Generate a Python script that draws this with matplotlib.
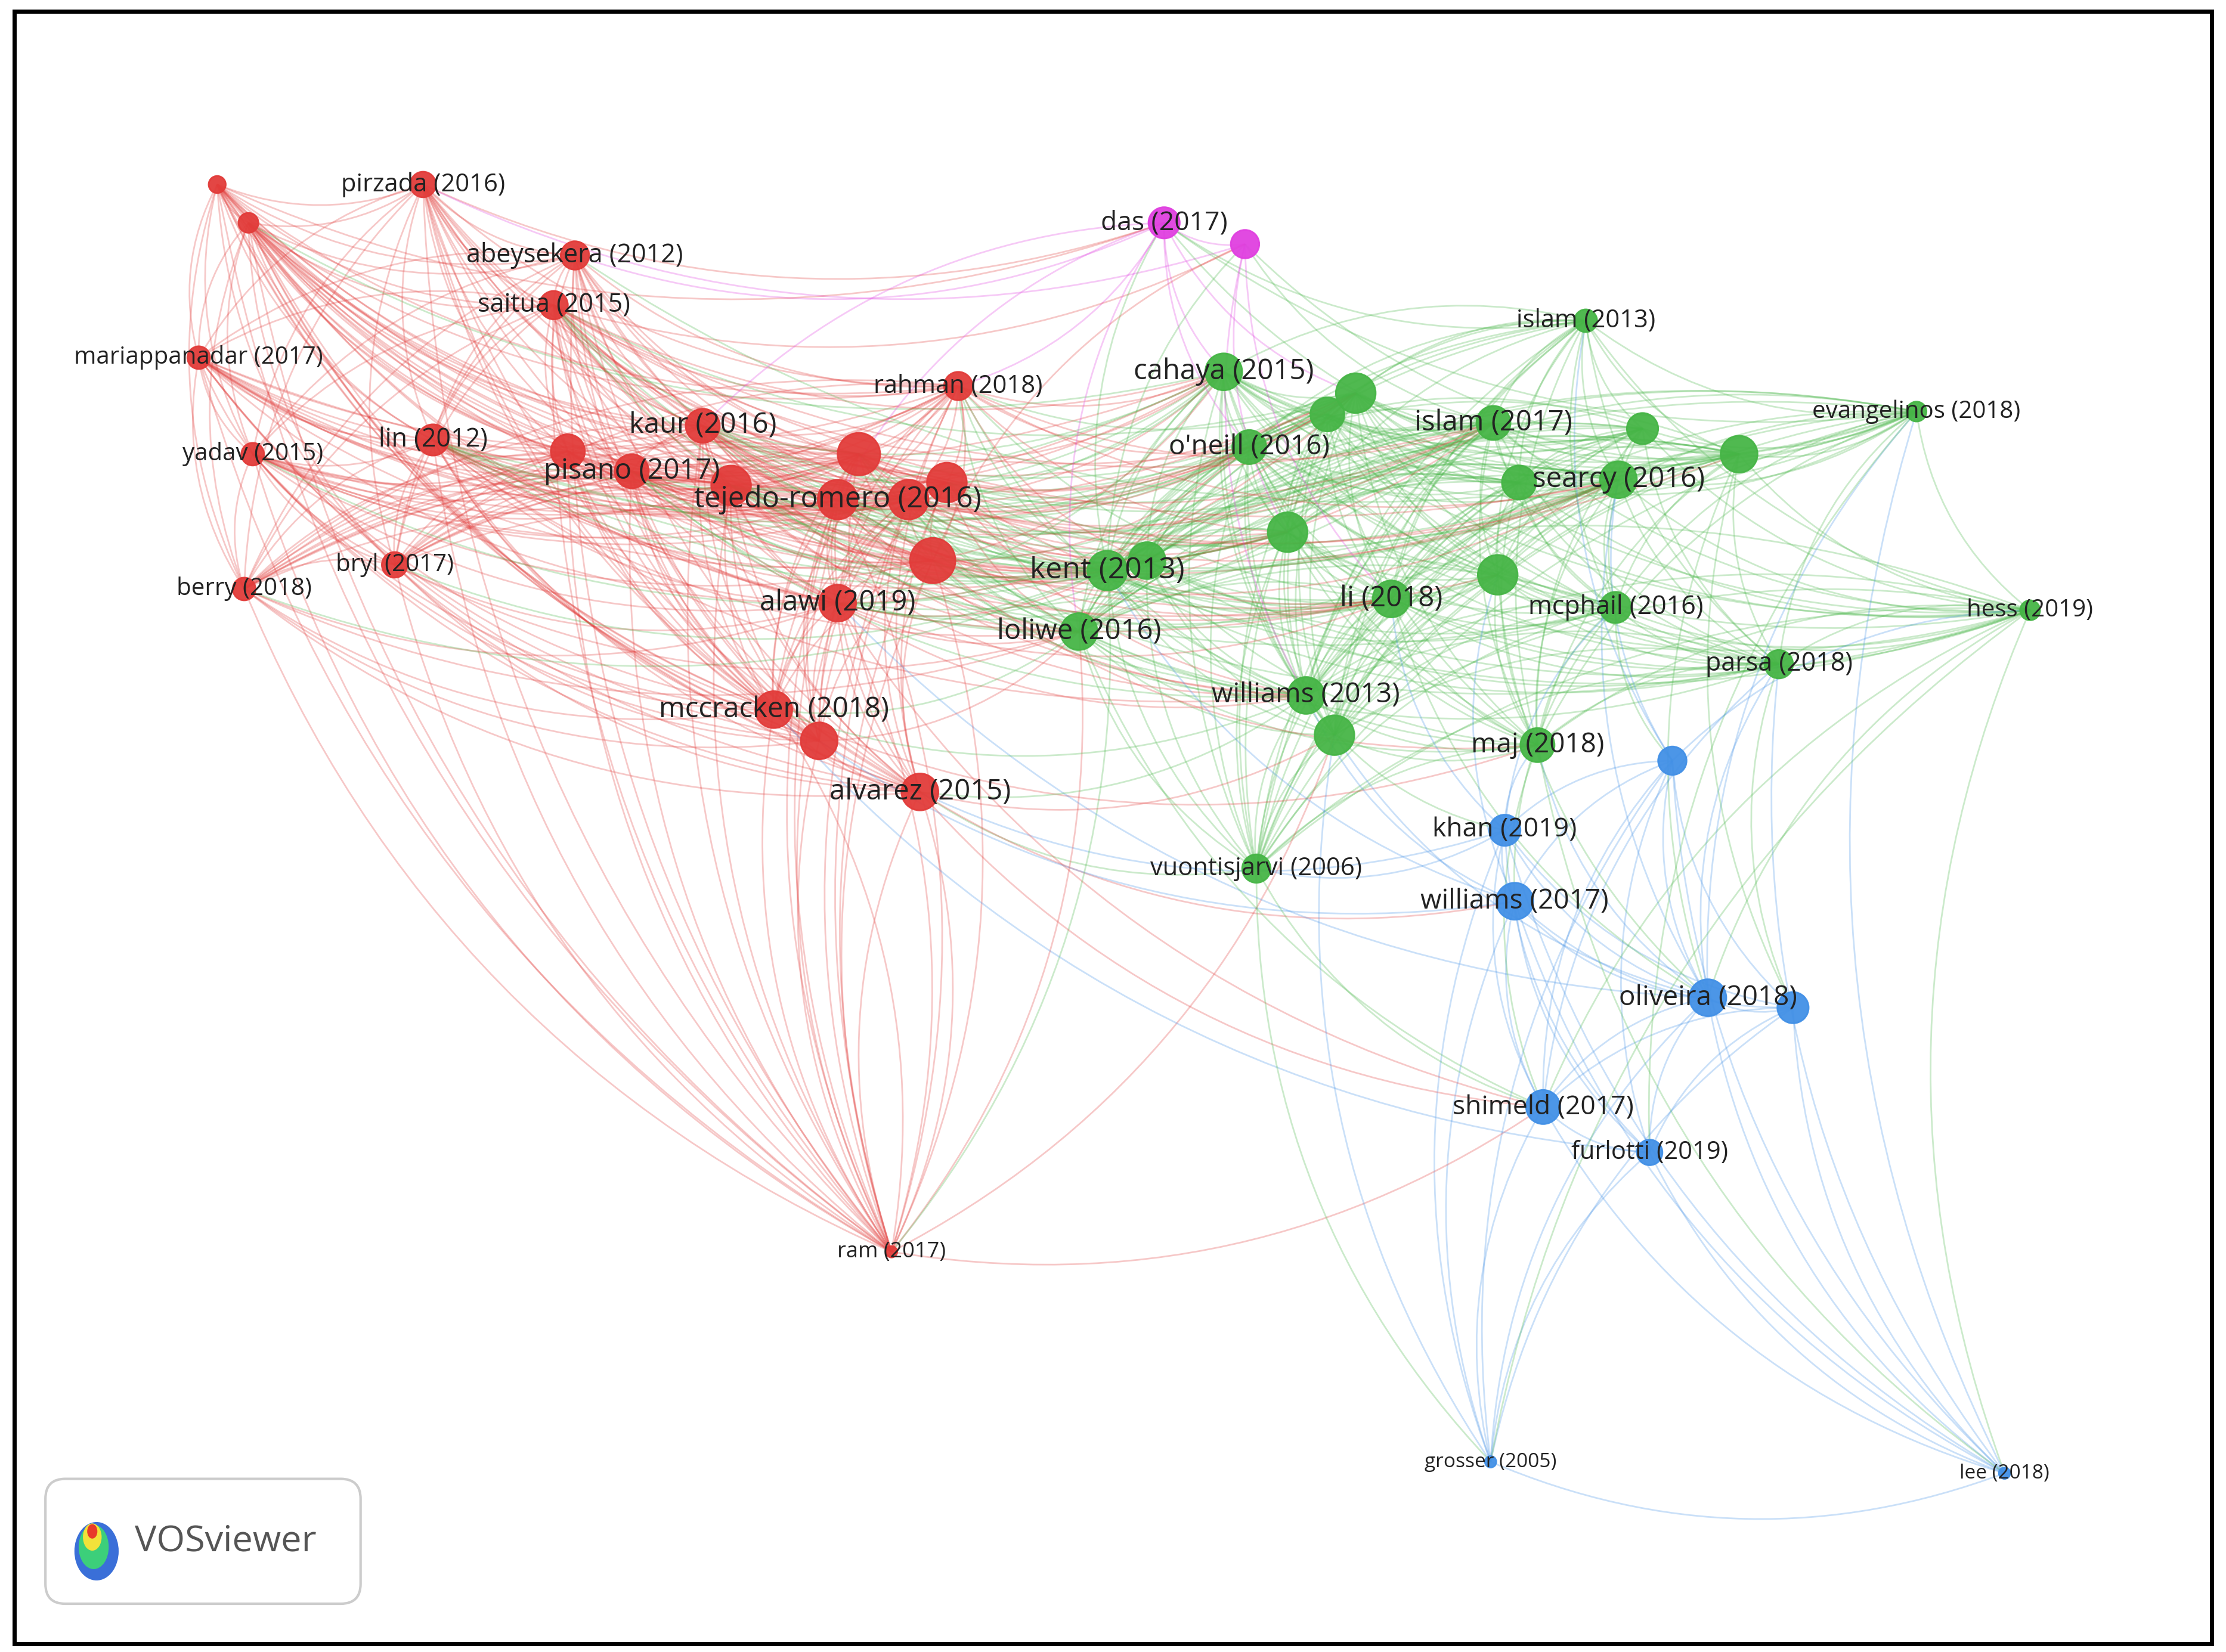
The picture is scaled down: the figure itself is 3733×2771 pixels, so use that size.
import numpy as np
import matplotlib.pyplot as plt
from matplotlib.patches import Circle, Ellipse, FancyBboxPatch, PathPatch
from matplotlib.path import Path

# nodes: id, x, y (image pixels of the 1568 wide view), radius, cluster, label, font size
RED, GREEN, BLUE, PINK = '#e23c3a', '#46b546', '#4290e6', '#e040e0'
nodes = [
    ('r1', 153, 130, 6, RED, '', 0),
    ('r2', 175, 157, 7, RED, '', 0),
    ('pirzada', 298, 130, 9, RED, 'pirzada (2016)', 15),
    ('abeysekera', 405, 180, 10, RED, 'abeysekera (2012)', 15.5),
    ('saitua', 390, 215, 10, RED, 'saitua (2015)', 15.5),
    ('mariappanadar', 140, 252, 8, RED, 'mariappanadar (2017)', 14.5),
    ('yadav', 178, 320, 8, RED, 'yadav (2015)', 14.5),
    ('lin', 305, 310, 11, RED, 'lin (2012)', 15.5),
    ('r3', 400, 318, 12, RED, '', 0),
    ('kaur', 495, 300, 12, RED, 'kaur (2016)', 17),
    ('pisano', 445, 332, 12, RED, 'pisano (2017)', 17),
    ('r4', 515, 342, 14, RED, '', 0),
    ('r5', 605, 320, 15, RED, '', 0),
    ('tejedo', 590, 352, 14, RED, 'tejedo-romero (2016)', 17.5),
    ('r6', 640, 352, 14, RED, '', 0),
    ('r7', 667, 340, 14, RED, '', 0),
    ('r8', 657, 395, 16, RED, '', 0),
    ('rahman', 675, 272, 10, RED, 'rahman (2018)', 15),
    ('bryl', 278, 398, 9, RED, 'bryl (2017)', 14.5),
    ('berry', 172, 415, 8, RED, 'berry (2018)', 14.5),
    ('alawi', 590, 425, 13, RED, 'alawi (2019)', 17),
    ('mccracken', 545, 500, 13, RED, 'mccracken (2018)', 17),
    ('r9', 577, 522, 13, RED, '', 0),
    ('alvarez', 648, 558, 13, RED, 'alvarez (2015)', 17),
    ('ram', 628, 882, 4, RED, 'ram (2017)', 13),
    ('das', 820, 157, 11, PINK, 'das (2017)', 16),
    ('p1', 877, 172, 10, PINK, '', 0),
    ('islam13', 1117, 226, 8, GREEN, 'islam (2013)', 15),
    ('cahaya', 862, 262, 13, GREEN, 'cahaya (2015)', 17),
    ('g1', 955, 277, 14, GREEN, '', 0),
    ('g2', 935, 292, 12, GREEN, '', 0),
    ('islam17', 1052, 298, 12, GREEN, 'islam (2017)', 17),
    ('g3', 1157, 302, 11, GREEN, '', 0),
    ('g4', 1225, 320, 13, GREEN, '', 0),
    ('oneill', 880, 315, 12, GREEN, "o'neill (2016)", 16.5),
    ('searcy', 1140, 338, 13, GREEN, 'searcy (2016)', 17),
    ('g5', 1070, 340, 12, GREEN, '', 0),
    ('evangelinos', 1350, 290, 7, GREEN, 'evangelinos (2018)', 14.5),
    ('g6', 907, 375, 14, GREEN, '', 0),
    ('kent', 780, 402, 14, GREEN, 'kent (2013)', 18),
    ('g7', 808, 395, 13, GREEN, '', 0),
    ('li', 980, 422, 13, GREEN, 'li (2018)', 17),
    ('g8', 1055, 405, 14, GREEN, '', 0),
    ('mcphail', 1138, 428, 11, GREEN, 'mcphail (2016)', 15.5),
    ('hess', 1430, 430, 7, GREEN, 'hess (2019)', 14.5),
    ('loliwe', 760, 445, 13, GREEN, 'loliwe (2016)', 17),
    ('parsa', 1253, 468, 10, GREEN, 'parsa (2018)', 15.5),
    ('williams13', 920, 490, 13, GREEN, 'williams (2013)', 16.5),
    ('g9', 940, 518, 14, GREEN, '', 0),
    ('maj', 1083, 525, 12, GREEN, 'maj (2018)', 16.5),
    ('vuontisjarvi', 885, 612, 10, GREEN, 'vuontisjarvi (2006)', 15),
    ('b1', 1178, 536, 10, BLUE, '', 0),
    ('khan', 1060, 585, 11, BLUE, 'khan (2019)', 16),
    ('williams17', 1067, 635, 13, BLUE, 'williams (2017)', 16.5),
    ('oliveira', 1203, 703, 13, BLUE, 'oliveira (2018)', 16.5),
    ('b2', 1263, 710, 11, BLUE, '', 0),
    ('shimeld', 1087, 780, 12, BLUE, 'shimeld (2017)', 16),
    ('furlotti', 1162, 812, 9, BLUE, 'furlotti (2019)', 15),
    ('grosser', 1050, 1030, 4, BLUE, 'grosser (2005)', 12),
    ('lee', 1412, 1038, 4, BLUE, 'lee (2018)', 12),
]

# strongly cited groups: every node of one list links every node of the other
red_hubs = ['kaur', 'pisano', 'r4', 'r5', 'tejedo', 'r6', 'r7', 'r8', 'alawi', 'rahman', 'lin', 'saitua']
green_hubs = ['cahaya', 'g1', 'oneill', 'kent', 'g7', 'loliwe', 'g6', 'li', 'islam17', 'williams13', 'searcy']

# single links between clusters (within a cluster every node is linked)
cross_links = [
    ('rahman', 'das'), ('pirzada', 'das'), ('abeysekera', 'das'), ('saitua', 'p1'),
    ('pirzada', 'p1'), ('r1', 'das'), ('mccracken', 'loliwe'),
    ('mccracken', 'maj'), ('alvarez', 'vuontisjarvi'), ('alvarez', 'williams17'), ('alvarez', 'khan'),
    ('alawi', 'shimeld'), ('r9', 'williams17'), ('ram', 'loliwe'), ('ram', 'kent'),
    ('ram', 'shimeld'), ('ram', 'tejedo'), ('ram', 'alawi'), ('ram', 'r8'), ('ram', 'g9'),
    ('ram', 'mccracken'), ('ram', 'alvarez'), ('berry', 'kent'),
    ('bryl', 'loliwe'), ('yadav', 'g7'), ('mariappanadar', 'cahaya'),
    ('abeysekera', 'searcy'), ('kaur', 'g4'), ('r4', 'mcphail'), ('r3', 'g8'), ('tejedo', 'parsa'),
    ('r8', 'maj'), ('alawi', 'oliveira'), ('alvarez', 'shimeld'), ('mccracken', 'furlotti'),
    ('alvarez', 'g9'), ('alvarez', 'williams13'), ('r9', 'loliwe'), ('mccracken', 'williams13'),
    ('berry', 'loliwe'), ('bryl', 'kent'), ('yadav', 'cahaya'), ('r2', 'cahaya'),
    ('das', 'cahaya'), ('das', 'islam13'), ('das', 'oneill'), ('das', 'kent'), ('das', 'g1'),
    ('das', 'searcy'), ('p1', 'g6'), ('p1', 'islam17'), ('p1', 'li'), ('das', 'evangelinos'),
    ('das', 'loliwe'), ('p1', 'g4'), ('p1', 'williams13'), ('p1', 'kent'), ('das', 'tejedo'),
    ('p1', 'r8'), ('das', 'kaur'),
    ('williams13', 'williams17'), ('williams13', 'khan'), ('maj', 'oliveira'), ('maj', 'shimeld'),
    ('li', 'khan'), ('li', 'oliveira'), ('g8', 'williams17'), ('mcphail', 'b1'), ('parsa', 'oliveira'),
    ('parsa', 'b2'), ('searcy', 'b1'), ('hess', 'oliveira'), ('hess', 'b1'), ('hess', 'shimeld'),
    ('evangelinos', 'oliveira'), ('evangelinos', 'furlotti'), ('kent', 'williams17'),
    ('loliwe', 'shimeld'), ('vuontisjarvi', 'khan'), ('vuontisjarvi', 'shimeld'),
    ('g9', 'oliveira'), ('g4', 'b2'), ('islam13', 'b1'), ('hess', 'lee'), ('parsa', 'lee'),
    ('maj', 'lee'), ('g9', 'grosser'), ('vuontisjarvi', 'grosser'), ('evangelinos', 'lee'),
    ('hess', 'grosser'), ('mcphail', 'khan'), ('mcphail', 'williams17'), ('maj', 'khan'),
    ('g8', 'oliveira'), ('searcy', 'oliveira'), ('g4', 'oliveira'), ('parsa', 'shimeld'),
]

W, H = 1568, 1164
fig = plt.figure(figsize=(3733 / 200, 2771 / 200), dpi=200)
ax = fig.add_axes([0, 0, 1, 1])
ax.set_xlim(0, W)
ax.set_ylim(H, 0)
ax.axis('off')

pos = {n[0]: (n[1], n[2]) for n in nodes}
col = {n[0]: n[4] for n in nodes}
clusters = {}
for n in nodes:
    clusters.setdefault(n[4], []).append(n[0])

links = []
for members in clusters.values():
    for i in range(len(members)):
        for j in range(i + 1, len(members)):
            links.append((members[i], members[j]))
for a in red_hubs:
    for b in green_hubs:
        links.append((a, b))
links += cross_links


def draw_link(a, b, c):
    p0 = np.array(pos[a], float)
    p2 = np.array(pos[b], float)
    d = p2 - p0
    perp = np.array([-d[1], d[0]])
    p1 = (p0 + p2) / 2 + 0.2 * perp
    path = Path([p0, p1, p2], [Path.MOVETO, Path.CURVE3, Path.CURVE3])
    ax.add_patch(PathPatch(path, fc='none', ec=c, lw=1.0, alpha=0.28, zorder=1))


# a link between clusters takes the colour of one of its two ends, in turn
for k, (a, b) in enumerate(links):
    draw_link(a, b, col[a] if k % 2 == 0 else col[b])

for nid, x, y, r, c, label, fs in nodes:
    ax.add_patch(Circle((x, y), r, color=c, zorder=3, alpha=0.95))
for nid, x, y, r, c, label, fs in nodes:
    if label:
        ax.text(x, y, label, fontsize=fs, family='Open Sans', color='#222222',
                ha='center', va='center', zorder=4)

# frame
ax.add_patch(plt.Rectangle((10, 8), 1548, 1150, fill=False, ec='black', lw=2.5, zorder=5))

# logo box
ax.add_patch(FancyBboxPatch((32, 1042), 222, 88, boxstyle='round,pad=0,rounding_size=14',
                            fc='white', ec='#cccccc', lw=1.5, zorder=5))
for (x, y, w, h, c) in [(68, 1093, 30, 40, '#3a6fd8'), (66, 1090, 20, 30, '#3ccf7a'),
                        (65, 1083, 12, 18, '#f2e23a'), (65, 1079, 6, 9, '#e83b2a')]:
    ax.add_patch(Ellipse((x, y), w, h, color=c, zorder=6))
ax.text(95, 1086, 'VOSviewer', fontsize=22, family='Open Sans', color='#555555',
        ha='left', va='center', zorder=6)

fig.savefig('out.png', dpi=200)
